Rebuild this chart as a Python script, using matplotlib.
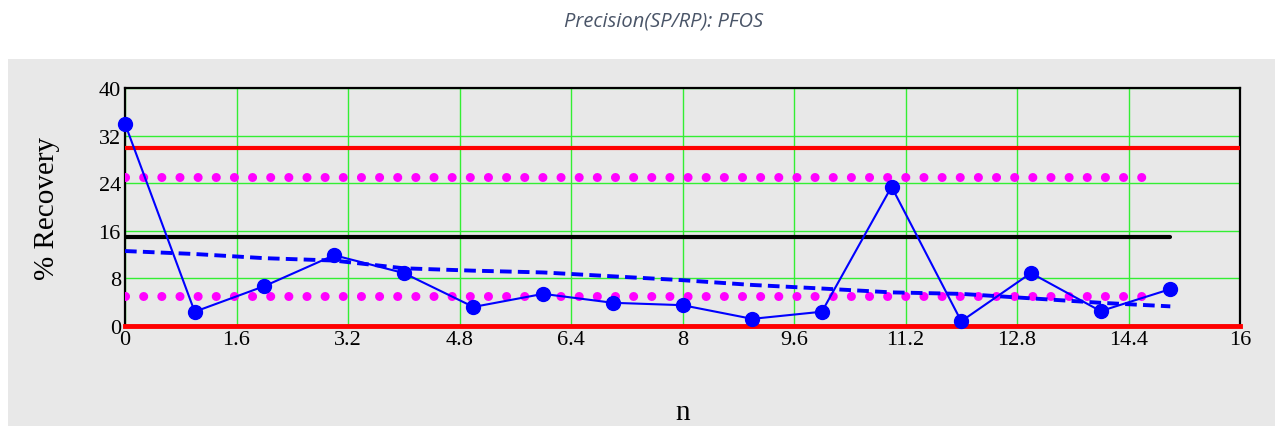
import matplotlib

matplotlib.use("Agg")
import matplotlib.pyplot as plt
from matplotlib.patches import Rectangle

# sample index and measured precision values
n = list(range(16))
recovery = [34.0, 2.4, 6.7, 11.9, 8.9, 3.2, 5.4, 3.9, 3.5, 1.2, 2.4, 23.4, 0.8, 8.9, 2.5, 6.2]
# dashed trend
trend = [12.6, 12.1, 11.4, 11.0, 9.7, 9.3, 9.0, 8.35, 7.7, 6.9, 6.3, 5.65, 5.4, 4.65, 3.9, 3.3]

lower_limit = 0
upper_limit = 30
warn_low = 5
warn_high = 25
center = 15

x_ticks = [0, 1.6, 3.2, 4.8, 6.4, 8, 9.6, 11.2, 12.8, 14.4, 16]
x_tick_labels = ["0", "1.6", "3.2", "4.8", "6.4", "8", "9.6", "11.2", "12.8", "14.4", "16"]
y_ticks = [0, 8, 16, 24, 32, 40]

W, H = 1275, 427
fig = plt.figure(figsize=(W / 100, H / 100), dpi=100)
fig.patch.set_facecolor("white")
fig.patches.append(Rectangle((8 / W, 0), 1 - 8 / W, 1 - 60 / H, transform=fig.transFigure,
                             facecolor="#e8e8e8", edgecolor="none", zorder=-5))

fig.text(664 / W, 1 - 21 / H, "Precision(SP/RP): PFOS", ha="center", va="center",
         fontsize=14.5, style="italic", family="Open Sans", color="#4a5568")

ax = fig.add_axes([125 / W, 1 - 327 / H, (1240 - 125) / W, (327 - 89) / H])
ax.set_facecolor("#e8e8e8")

ax.set_xlim(0, 16)
ax.set_ylim(0, 40)
ax.set_xticks(x_ticks)
ax.set_xticklabels(x_tick_labels)
ax.set_yticks(y_ticks)
ax.grid(True, color="#33ee33", linewidth=1)
ax.set_axisbelow(True)
ax.tick_params(length=0, labelsize=16, pad=3)
for lab in ax.get_xticklabels() + ax.get_yticklabels():
    lab.set_family("Liberation Serif")
for sp in ax.spines.values():
    sp.set_color("black")
    sp.set_linewidth(1.6)

ax.axhline(upper_limit, color="red", linewidth=3, zorder=3)
ax.axhline(lower_limit, color="red", linewidth=3.5, zorder=3, clip_on=False)
ax.plot([0, 14.75], [warn_high, warn_high], color="#ff00ff", linewidth=6.5,
        linestyle=(0, (0.01, 2.0)), dash_capstyle="round", zorder=3)
ax.plot([0, 14.75], [warn_low, warn_low], color="#ff00ff", linewidth=6.5,
        linestyle=(0, (0.01, 2.0)), dash_capstyle="round", zorder=3)
ax.plot([0, 15], [center, center], color="black", linewidth=3, solid_capstyle="round", zorder=3)
ax.plot(n, trend, color="blue", linewidth=2.8, linestyle=(0, (3, 1.6)), zorder=4)
ax.plot(n, recovery, color="blue", linewidth=1.5, marker="o", markersize=10, zorder=5,
        clip_on=False)

ax.set_xlabel("n", family="Liberation Serif", fontsize=21, labelpad=36)
ax.set_ylabel("% Recovery", family="Liberation Serif", fontsize=21, labelpad=28)

fig.savefig("out.png", dpi=100)
